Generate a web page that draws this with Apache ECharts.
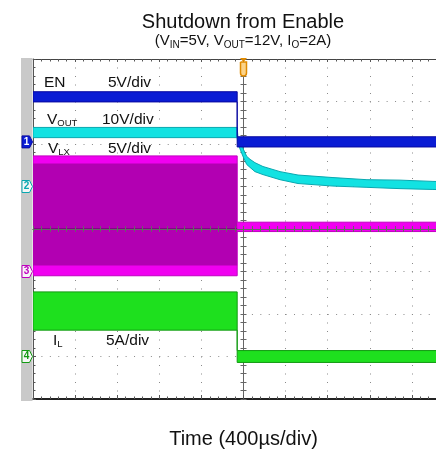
<!DOCTYPE html>
<html>
<head>
<meta charset="utf-8">
<title>Shutdown from Enable</title>
<script src="https://cdn.jsdelivr.net/npm/echarts@6.0.0/dist/echarts.min.js"></script>
<style>
  html, body { margin: 0; padding: 0; background: #ffffff; }
  #chart { width: 436px; height: 453px; }
</style>
</head>
<body>
<div id="chart"></div>
<script>
// ---------------- Scope settings ----------------
const timeMin = -2000;      // µs, trigger point at 0
const timeMax = 2000;
const timePerDiv = 400;     // µs/div

// Channels: label (main + subscript), vertical scale and unit
const channelMain = ['EN', 'V', 'V', 'I'];
const channelSub = ['', 'OUT', 'LX', 'L'];
const channelScale = [5, 10, 5, 5];
const channelUnit = ['V', 'V', 'V', 'A'];

// Test conditions printed under the title
const condSymbol = ['V', 'V', 'I'];
const condSub = ['IN', 'OUT', 'O'];
const condValue = ['5V', '12V', '2A'];

// ---------------- Trace envelopes (min / max of each acquisition) ----------------
// EN, volts
const enTime = [-2000, -60, -60, 2000];
const enHigh = [5.9, 5.9, 0.6, 0.6];
const enLow = [4.7, 4.7, -0.6, -0.6];

// VOUT, volts: output discharges once EN goes low
const voutTime = [-2000, -60, -52, -28, 0, 30, 62, 109, 185, 347, 518, 850, 1173, 1487, 1800, 2000];
const voutHigh = [13.9, 13.9, 11.3, 10.6, 8.7, 7.1, 6.4, 5.6, 4.7, 3.5, 2.7, 2.1, 1.6, 1.5, 1.2, 1.1];
const voutLow = [11.5, 11.5, 10.1, 8.5, 6.8, 5.2, 4.5, 3.5, 2.8, 1.6, 0.7, 0.1, -0.2, -0.5, -0.7, -0.8];

// VLX, volts: full switching swing, then parked at VIN
const vlxTime = [-2000, -60, -60, 2000];
const vlxHigh = [13.6, 13.6, 5.8, 5.8];
const vlxLow = [-0.5, -0.5, 4.7, 4.7];
// dense core of the switching waveform
const vlxCoreTime = [-2000, -60];
const vlxCoreHigh = [12.7, 12.7];
const vlxCoreLow = [0.7, 0.7];
// ringing settles at VIN between pulses
const vlxRingTime = [-2000, -60];
const vlxRingLevel = [5, 5];

// IL, amps
const ilTime = [-2000, -60, -60, 2000];
const ilHigh = [7.6, 7.6, 0.7, 0.7];
const ilLow = [3.1, 3.1, -0.7, -0.7];

// ---------------- Layout / style ----------------
// ground marker of each channel, in divisions above screen centre
const channelGround = [2.05, 1, -1, -3];
const channelColor = ['#0a1cd4', '#12e2e2', '#f000f0', '#1ee01e'];
const channelEdge = ['#0808a0', '#08a8b0', '#c000c0', '#129a12'];
const FONT = 'Liberation Sans, Arial, sans-serif';

const chart = echarts.init(document.getElementById('chart'));

// first four y axes index offset for channel axes
const CH_AXIS = 3;

const channelAxes = channelScale.map((s, i) => ({
  type: 'value', gridIndex: 0, show: false,
  min: (-4 - channelGround[i]) * s,
  max: (4 - channelGround[i]) * s,
  axisLine: { onZero: false },
  splitLine: { show: false }
}));

const tickColor = '#555';

function centreXAxis(inside) {
  return {
    type: 'value', gridIndex: 0, min: timeMin, max: timeMax, interval: timePerDiv,
    position: 'bottom', z: 6,
    axisLine: { show: true, onZero: true, onZeroAxisIndex: 0, lineStyle: { color: '#666', width: 1 } },
    axisTick: { show: true, inside: inside, length: 3, lineStyle: { color: '#666' } },
    minorTick: { show: true, splitNumber: 5, length: 3, lineStyle: { color: '#666' } },
    axisLabel: { show: false }, splitLine: { show: false }
  };
}
function centreYAxis(inside) {
  return {
    type: 'value', gridIndex: 0, min: -4, max: 4, interval: 1, position: 'left',
    axisLine: { show: true, onZero: true, onZeroAxisIndex: 0, lineStyle: { color: '#666', width: 1 } },
    axisTick: { show: true, inside: inside, length: 3, lineStyle: { color: '#666' } },
    minorTick: { show: true, splitNumber: 5, length: 3, lineStyle: { color: '#666' } },
    axisLabel: { show: false }, splitLine: { show: false }
  };
}

// filled envelope between low and high, drawn through the axis scales
function bandSeries(axisIndex, time, low, high, fill, edge, z) {
  return {
    type: 'custom', xAxisIndex: 0, yAxisIndex: axisIndex, z: z, silent: true, clip: true,
    data: time.map((t, i) => [t, low[i], high[i]]),
    encode: { x: 0, y: [1, 2] },
    renderItem: function (params, api) {
      if (params.dataIndex !== 0) return null;
      const upper = time.map((t, i) => api.coord([t, high[i]]));
      const lower = time.map((t, i) => api.coord([t, low[i]])).reverse();
      return {
        type: 'polygon',
        shape: { points: upper.concat(lower) },
        style: { fill: fill, stroke: edge, lineWidth: edge ? 1 : 0 }
      };
    }
  };
}

const condText = condSymbol.map((s, i) => s + '{s|' + condSub[i] + '}=' + condValue[i]).join(', ');

const option = {
  animation: false,
  backgroundColor: '#ffffff',
  title: [
    {
      text: 'Shutdown from Enable', left: 238, top: 7, textAlign: 'center',
      textStyle: { fontSize: 20, fontWeight: 'normal', fontFamily: FONT, color: '#111', lineHeight: 20 }
    },
    {
      text: '(' + condText + ')', left: 238, top: 26, textAlign: 'center',
      textStyle: {
        fontSize: 15, fontWeight: 'normal', fontFamily: FONT, color: '#111', lineHeight: 19,
        rich: { s: { fontSize: 10, fontFamily: FONT, color: '#111', lineHeight: 10, verticalAlign: 'bottom' } }
      }
    }
  ],
  grid: { left: 33, top: 59, width: 421, height: 340, containLabel: false, outerBoundsMode: 'none' },
  xAxis: [
    {
      type: 'value', gridIndex: 0, min: timeMin, max: timeMax, interval: timePerDiv, position: 'bottom',
      axisLine: { show: true, onZero: false, lineStyle: { color: '#222', width: 2 } },
      axisTick: { show: true, inside: true, length: 4, lineStyle: { color: tickColor } },
      minorTick: { show: true, splitNumber: 5, length: 2.5, lineStyle: { color: tickColor } },
      axisLabel: { show: false },
      splitLine: { show: true, lineStyle: { color: '#8a8a8a', width: 1, type: [1, 7.5] } },
      name: 'Time (' + timePerDiv + 'µs/div)', nameLocation: 'middle', nameGap: 30,
      nameTextStyle: { fontSize: 20, fontFamily: FONT, color: '#111' }
    },
    {
      type: 'value', gridIndex: 0, min: timeMin, max: timeMax, interval: timePerDiv, position: 'top',
      axisLine: { show: true, onZero: false, lineStyle: { color: '#444', width: 1 } },
      axisTick: { show: true, inside: true, length: 3, lineStyle: { color: tickColor } },
      minorTick: { show: true, splitNumber: 5, length: 2.5, lineStyle: { color: tickColor } },
      axisLabel: { show: false }, splitLine: { show: false }
    },
    centreXAxis(false),
    centreXAxis(true)
  ],
  yAxis: [
    {
      type: 'value', gridIndex: 0, min: -4, max: 4, interval: 1, position: 'left',
      axisLine: { show: true, onZero: false, lineStyle: { color: '#555', width: 1 } },
      axisTick: { show: true, inside: true, length: 3, lineStyle: { color: tickColor } },
      minorTick: { show: true, splitNumber: 5, length: 2.5, lineStyle: { color: tickColor } },
      axisLabel: { show: false },
      splitLine: { show: true, lineStyle: { color: '#8a8a8a', width: 1, type: [1, 7.42] } }
    },
    centreYAxis(false),
    centreYAxis(true)
  ].concat(channelAxes),
  series: [
    bandSeries(CH_AXIS + 2, vlxTime, vlxLow, vlxHigh, channelColor[2], channelEdge[2], 2),
    bandSeries(CH_AXIS + 2, vlxCoreTime, vlxCoreLow, vlxCoreHigh, '#b200b2', null, 2),
    {
      type: 'line', xAxisIndex: 0, yAxisIndex: CH_AXIS + 2, z: 2, silent: true,
      data: vlxRingTime.map((t, i) => [t, vlxRingLevel[i]]),
      symbol: 'none', lineStyle: { color: '#5c005c', width: 1 }
    },
    bandSeries(CH_AXIS + 3, ilTime, ilLow, ilHigh, channelColor[3], channelEdge[3], 2),
    bandSeries(CH_AXIS + 1, voutTime, voutLow, voutHigh, channelColor[1], channelEdge[1], 3),
    bandSeries(CH_AXIS + 0, enTime, enLow, enHigh, channelColor[0], channelEdge[0], 4)
  ]
};

chart.setOption(option);

// ---------------- Screen furniture: channel tags, trigger tag, labels ----------------
const graphics = [];
graphics.push({
  type: 'rect', z: 1, silent: true,
  shape: { x: 21, y: 58, width: 11.5, height: 343 },
  style: { fill: '#c9c9c9' }
});

channelMain.forEach((m, i) => {
  const y = chart.convertToPixel({ yAxisIndex: CH_AXIS + i }, 0);
  const filled = i === 0;
  graphics.push({
    type: 'polygon', z: 10, silent: true,
    shape: { points: [[22, y - 6], [29.5, y - 6], [32.5, y], [29.5, y + 6], [22, y + 6]] },
    style: { fill: filled ? channelColor[i] : '#f6f6f6', stroke: channelEdge[i], lineWidth: 1 }
  });
  graphics.push({
    type: 'text', z: 11, silent: true, x: 26.5, y: y,
    style: {
      text: String(i + 1), fill: filled ? '#ffffff' : channelEdge[i],
      font: 'bold 10px ' + FONT, align: 'center', verticalAlign: 'middle'
    }
  });
});

// trigger position tag
const trigX = chart.convertToPixel({ xAxisIndex: 0 }, 0);
graphics.push({
  type: 'polygon', z: 10, silent: true,
  shape: { points: [[trigX - 3.5, 58], [trigX + 3.5, 58], [trigX, 62]] },
  style: { fill: '#e08a00' }
});
graphics.push({
  type: 'rect', z: 10, silent: true,
  shape: { x: trigX - 3, y: 62, width: 6, height: 14, r: [0, 0, 3, 3] },
  style: { fill: '#fbd38a', stroke: '#e08a00', lineWidth: 1.5 }
});

// channel names and scales inside the screen
const labelPos = [
  { nameX: 44, scaleX: 108, y: 82.5 },
  { nameX: 47, scaleX: 102, y: 120 },
  { nameX: 48, scaleX: 108, y: 148.5 },
  { nameX: 53, scaleX: 106, y: 340.5 }
];
const richLabel = {
  m: { fontSize: 15.5, fontFamily: FONT, fill: '#111', lineHeight: 17 },
  s: { fontSize: 9.5, fontFamily: FONT, fill: '#111', lineHeight: 10, verticalAlign: 'bottom' }
};
channelMain.forEach((m, i) => {
  const p = labelPos[i];
  graphics.push({
    type: 'text', z: 12, silent: true, x: p.nameX, y: p.y,
    style: {
      text: '{m|' + m + '}' + (channelSub[i] ? '{s|' + channelSub[i] + '}' : ''),
      rich: richLabel, verticalAlign: 'middle', align: 'left'
    }
  });
  graphics.push({
    type: 'text', z: 12, silent: true, x: p.scaleX, y: p.y,
    style: {
      text: channelScale[i] + channelUnit[i] + '/div', fill: '#111',
      font: '15.5px ' + FONT, verticalAlign: 'middle', align: 'left'
    }
  });
});

chart.setOption({ graphic: { elements: graphics } });
</script>
</body>
</html>
